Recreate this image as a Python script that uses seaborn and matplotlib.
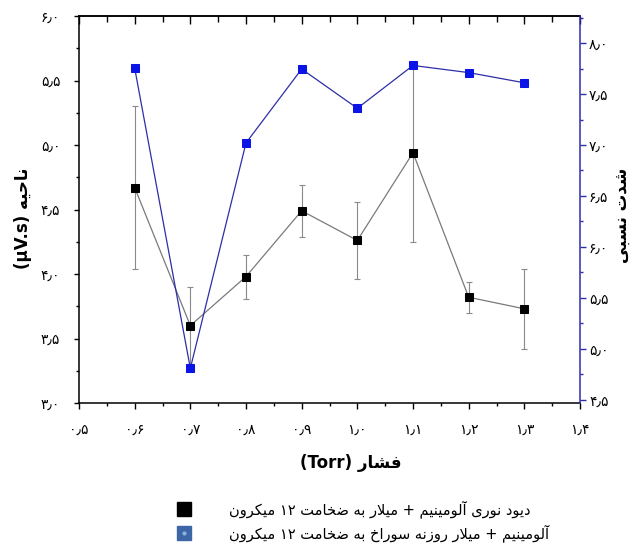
import re
import matplotlib
matplotlib.use("Agg")
import matplotlib.pyplot as plt
from matplotlib.lines import Line2D
from matplotlib.legend_handler import HandlerTuple
from matplotlib.ticker import MultipleLocator, FuncFormatter
import seaborn as sns

# ---- data -------------------------------------------------------------
pressure = [0.6, 0.7, 0.8, 0.9, 1.0, 1.1, 1.2, 1.3]          # Torr
area_diode = [4.67, 3.60, 3.98, 4.49, 4.26, 4.94, 3.82, 3.73]  # µV.s
area_err = [0.63, 0.30, 0.17, 0.20, 0.30, 0.69, 0.12, 0.31]
relative_intensity = [7.755, 4.81, 7.02, 7.745, 7.36, 7.78, 7.71, 7.61]

xlabel_fa = "فشار (Torr)"
ylabel_fa = "ناحیه (µV.s)"
y2label_fa = "شدت نسبی"
legend_fa = [
    "دیود نوری آلومینیم + میلار به ضخامت ۱۲ میکرون",
    "آلومینیم + میلار روزنه سوراخ به ضخامت ۱۲ میکرون",
]

# ---- minimal Persian shaping (matplotlib has no text shaping) ----------
_FORMS = {
    'ا': ('\ufe8d', '\ufe8e', None, None),
    'آ': ('\ufe81', '\ufe82', None, None),
    'ب': ('\ufe8f', '\ufe90', '\ufe91', '\ufe92'),
    'ت': ('\ufe95', '\ufe96', '\ufe97', '\ufe98'),
    'ح': ('\ufea1', '\ufea2', '\ufea3', '\ufea4'),
    'خ': ('\ufea5', '\ufea6', '\ufea7', '\ufea8'),
    'د': ('\ufea9', '\ufeaa', None, None),
    'ر': ('\ufead', '\ufeae', None, None),
    'ز': ('\ufeaf', '\ufeb0', None, None),
    'س': ('\ufeb1', '\ufeb2', '\ufeb3', '\ufeb4'),
    'ش': ('\ufeb5', '\ufeb6', '\ufeb7', '\ufeb8'),
    'ض': ('\ufebd', '\ufebe', '\ufebf', '\ufec0'),
    'ف': ('\ufed1', '\ufed2', '\ufed3', '\ufed4'),
    'ک': ('\ufb8e', '\ufb8f', '\ufb90', '\ufb91'),
    'ل': ('\ufedd', '\ufede', '\ufedf', '\ufee0'),
    'م': ('\ufee1', '\ufee2', '\ufee3', '\ufee4'),
    'ن': ('\ufee5', '\ufee6', '\ufee7', '\ufee8'),
    'ه': ('\ufee9', '\ufeea', '\ufeeb', '\ufeec'),
    'و': ('\ufeed', '\ufeee', None, None),
    'ی': ('\ufbfc', '\ufbfd', '\ufbfe', '\ufbff'),
}
_LAM_ALEF = ('\ufefb', '\ufefc')


def _shape(text):
    out, i, n = [], 0, len(text)
    while i < n:
        ch = text[i]
        if ch not in _FORMS:
            out.append(ch)
            i += 1
            continue
        prev = text[i - 1] if i > 0 else ''
        joins_prev = prev in _FORMS and _FORMS[prev][2] is not None
        nxt = text[i + 1] if i + 1 < n else ''
        if ch == 'ل' and nxt == 'ا':
            out.append(_LAM_ALEF[1 if joins_prev else 0])
            i += 2
            continue
        joins_next = _FORMS[ch][2] is not None and nxt in _FORMS
        iso, fin, ini, med = _FORMS[ch]
        if joins_prev and joins_next:
            out.append(med)
        elif joins_prev:
            out.append(fin)
        elif joins_next:
            out.append(ini)
        else:
            out.append(iso)
        i += 1
    return ''.join(out)


def fa(text):
    """Shape Persian text and put it in left-to-right display order."""
    chunks = re.findall(r'[A-Za-z0-9µ.\u06f0-\u06f9\u066b]+|.', _shape(text))
    chunks.reverse()
    mirror = {'(': ')', ')': '('}
    return ''.join(mirror.get(c, c) for c in chunks)


_FA_DIGITS = str.maketrans('0123456789.', '۰۱۲۳۴۵۶۷۸۹٫')


def fa_num(v, pos=None):
    return f"{v:.1f}".translate(_FA_DIGITS)


# ---- style --------------------------------------------------------------
sns.set_style("ticks")
plt.rcParams['font.family'] = ['DejaVu Sans']
plt.rcParams.update({
    'axes.linewidth': 1.1,
    'axes.edgecolor': 'black',
    'text.color': 'black',
    'xtick.color': 'black',
    'ytick.color': 'black',
    'xtick.labelcolor': 'black',
    'ytick.labelcolor': 'black',
})

W, H = 636, 548
fig = plt.figure(figsize=(W / 100, H / 100), dpi=100)
ax = fig.add_axes([79 / W, 1 - 403 / H, (580 - 79) / W, (403 - 16) / H])
ax2 = ax.twinx()

line_blue = '#2e2ea8'
mark_blue = '#0a14e6'

# photodiode area with error bars (left axis)
ax.errorbar(pressure, area_diode, yerr=area_err, fmt='none',
            ecolor='#8a8a8a', elinewidth=0.8, capsize=2.5, capthick=0.8,
            zorder=2)
sns.lineplot(x=pressure, y=area_diode, ax=ax, color='#7a7a7a', lw=0.9,
             marker='s', markersize=6, markerfacecolor='black',
             markeredgecolor='black', zorder=3)

# relative intensity (right axis)
sns.lineplot(x=pressure, y=relative_intensity, ax=ax2, color=line_blue,
             lw=0.9, marker='s', markersize=5.2, markerfacecolor=mark_blue,
             markeredgecolor=mark_blue, zorder=3)

ax.set_xlim(0.5, 1.4)
ax.set_ylim(3.0, 6.0)
ax2.set_ylim(4.47, 8.265)
ax.set_xlabel('')
ax.set_ylabel('')
ax2.set_ylabel('')

# ticks
ax.xaxis.set_major_locator(MultipleLocator(0.1))
ax.xaxis.set_minor_locator(MultipleLocator(0.05))
ax.yaxis.set_major_locator(MultipleLocator(0.5))
ax.yaxis.set_minor_locator(MultipleLocator(0.25))
ax2.yaxis.set_major_locator(MultipleLocator(0.5))
ax2.yaxis.set_minor_locator(MultipleLocator(0.25))
ax.xaxis.set_major_formatter(FuncFormatter(fa_num))
ax.yaxis.set_major_formatter(FuncFormatter(fa_num))
ax2.yaxis.set_major_formatter(FuncFormatter(fa_num))

ax.tick_params(axis='x', which='major', direction='out', length=4,
               width=1, pad=10, labelsize=10, top=False)
ax.tick_params(axis='x', which='minor', direction='out', length=2.5,
               width=1, top=False)
ax.tick_params(axis='y', which='major', direction='out', length=3.5,
               width=1, pad=10, labelsize=10, right=False)
ax.tick_params(axis='y', which='minor', direction='out', length=2,
               width=1, right=False)
ax2.tick_params(axis='y', which='major', direction='out', length=4.5,
                width=1, pad=2, labelsize=10, color=line_blue,
                labelcolor='black')
ax2.tick_params(axis='y', which='minor', direction='out', length=2.5,
                width=1, color=line_blue)

top = ax.secondary_xaxis('top')
top.xaxis.set_major_locator(MultipleLocator(0.1))
top.xaxis.set_minor_locator(MultipleLocator(0.05))
top.tick_params(which='major', direction='in', length=6, width=1,
                labeltop=False)
top.tick_params(which='minor', direction='in', length=4, width=1)
top.spines['top'].set_linewidth(1.1)

for side in ('left', 'bottom', 'top'):
    ax2.spines[side].set_visible(False)
ax2.spines['right'].set_color(line_blue)
ax2.spines['right'].set_linewidth(1.1)
ax.spines['right'].set_visible(False)

# axis titles
fig.text(351 / W, 1 - 463 / H, fa(xlabel_fa), ha='center', va='center',
         fontsize=12, fontweight='bold')
fig.text(23 / W, 1 - 218 / H, fa(ylabel_fa), ha='center', va='center',
         fontsize=12, fontweight='bold', rotation=90)
fig.text(622 / W, 1 - 215 / H, fa(y2label_fa), ha='center', va='center',
         fontsize=12, fontweight='bold', rotation=90)

# legend
h_black = Line2D([], [], ls='none', marker='s', markersize=10,
                 markerfacecolor='black', markeredgecolor='black')
h_blue_sq = Line2D([], [], ls='none', marker='s', markersize=10,
                   markerfacecolor='#3d66a6', markeredgecolor='#3d66a6')
h_blue_dot = Line2D([], [], ls='none', marker='o', markersize=3,
                    markerfacecolor='#8fb0de', markeredgecolor='none')
fig.legend([h_black, (h_blue_sq, h_blue_dot)], [fa(t) for t in legend_fa],
           handler_map={tuple: HandlerTuple(ndivide=1)},
           loc='center left', bbox_to_anchor=(168 / W, 1 - 521 / H),
           frameon=False, fontsize=10.5, handlelength=1.2,
           handletextpad=2.5, labelspacing=0.4, borderpad=0)

fig.savefig('out.png', dpi=100)
